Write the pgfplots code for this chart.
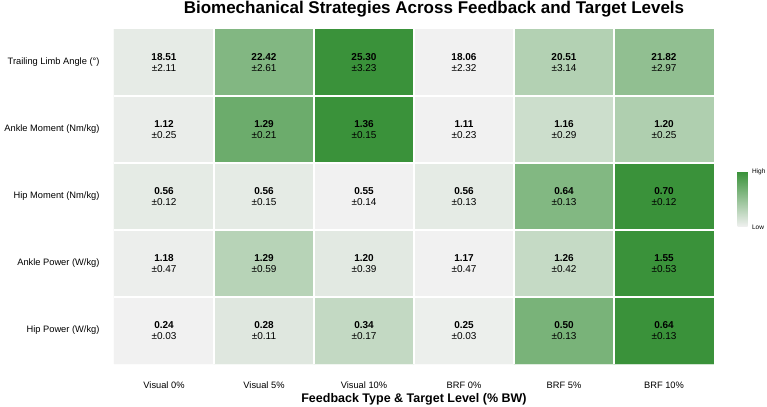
\documentclass[border=0pt]{standalone}
\usepackage{pgfplots}
\pgfplotsset{compat=1.18}
\usepackage{pgfplotstable}
\usepackage{fontspec}
\setmainfont{Liberation Sans}

% x: condition, y: measure (0 = top row), m: mean, s: SD, lo/hi: row range for colour scaling
\pgfplotstableread{
x y m s lo hi
0 0 18.51 2.11 18.06 25.30
1 0 22.42 2.61 18.06 25.30
2 0 25.30 3.23 18.06 25.30
3 0 18.06 2.32 18.06 25.30
4 0 20.51 3.14 18.06 25.30
5 0 21.82 2.97 18.06 25.30
0 1 1.12 0.25 1.11 1.36
1 1 1.29 0.21 1.11 1.36
2 1 1.36 0.15 1.11 1.36
3 1 1.11 0.23 1.11 1.36
4 1 1.16 0.29 1.11 1.36
5 1 1.20 0.25 1.11 1.36
0 2 0.56 0.12 0.55 0.70
1 2 0.56 0.15 0.55 0.70
2 2 0.55 0.14 0.55 0.70
3 2 0.56 0.13 0.55 0.70
4 2 0.64 0.13 0.55 0.70
5 2 0.70 0.12 0.55 0.70
0 3 1.18 0.47 1.17 1.55
1 3 1.29 0.59 1.17 1.55
2 3 1.20 0.39 1.17 1.55
3 3 1.17 0.47 1.17 1.55
4 3 1.26 0.42 1.17 1.55
5 3 1.55 0.53 1.17 1.55
0 4 0.24 0.03 0.24 0.64
1 4 0.28 0.11 0.24 0.64
2 4 0.34 0.17 0.24 0.64
3 4 0.25 0.03 0.24 0.64
4 4 0.50 0.13 0.24 0.64
5 4 0.64 0.13 0.24 0.64
}\cells

\begin{document}
\begin{tikzpicture}
\path[use as bounding box] (-114bp,-43bp) rectangle (653bp,364bp);
\begin{axis}[
  at={(0,0)}, anchor=south west,
  scale only axis, width=600bp, height=335bp,
  xmin=-0.5, xmax=5.5, ymin=-0.5, ymax=4.5,
  y dir=reverse,
  enlargelimits=false,
  axis line style={draw=none},
  major tick length=0pt,
  xtick={0,...,5},
  xticklabels={Visual 0\%, Visual 5\%, Visual 10\%, BRF 0\%, BRF 5\%, BRF 10\%},
  ytick={0,...,4},
  yticklabels={Trailing Limb Angle (°), Ankle Moment (Nm/kg), Hip Moment (Nm/kg), Ankle Power (W/kg), Hip Power (W/kg)},
  ticklabel style={font=\fontsize{9.3bp}{11bp}\selectfont},
  xticklabel style={anchor=center, yshift=-21bp},
  yticklabel style={anchor=east, xshift=-11bp},
  extra x ticks={0.5,1.5,2.5,3.5,4.5},
  extra y ticks={0.5,1.5,2.5,3.5},
  extra x tick labels={}, extra y tick labels={},
  extra tick style={grid=major, major grid style={white, line width=1.2bp}},
  axis on top,
  xlabel={\textbf{Feedback Type \& Target Level (\% BW)}},
  xlabel style={font=\fontsize{12.5bp}{14bp}\selectfont, at={(axis description cs:0.5,0)}, anchor=center, yshift=-35bp},
  colormap={rowgreen}{rgb255=(241,241,241) rgb255=(58,146,58)},
  point meta min=0, point meta max=1,
  colorbar,
  colorbar style={
    at={(parent axis.south east)}, anchor=south west,
    xshift=15bp, yshift=137bp,
    scale only axis, width=10bp, height=55bp,
    ytick={0,1}, yticklabels={Low,High},
    major tick length=0pt,
    axis line style={draw=none},
    yticklabel style={font=\fontsize{6.5bp}{8bp}\selectfont, xshift=1bp},
  },
]
% heatmap cells, coloured by position within each row's range
\addplot[matrix plot*, mesh/cols=6, mesh/rows=5, point meta=explicit]
  table[x=x, y=y, meta expr={(\thisrow{m}-\thisrow{lo})/(\thisrow{hi}-\thisrow{lo})}] {\cells};
% cell annotations: mean (bold) over SD
\addplot[draw=none, mark=none,
  point meta=explicit symbolic,
  visualization depends on={\thisrow{s}\as\sdval},
  nodes near coords={\textbf{\pgfplotspointmeta}\\±\pgfmathprintnumber[fixed, fixed zerofill, precision=2, assume math mode=true]{\sdval}},
  nodes near coords style={anchor=center, align=center, text=black,
    font=\fontsize{10bp}{11.5bp}\selectfont},
] table[x=x, y=y, meta=m] {\cells};
\end{axis}
\node[anchor=base, font=\fontsize{17bp}{20bp}\selectfont\bfseries] at (320bp,350bp)
  {Biomechanical Strategies Across Feedback and Target Levels};
\end{tikzpicture}
\end{document}
